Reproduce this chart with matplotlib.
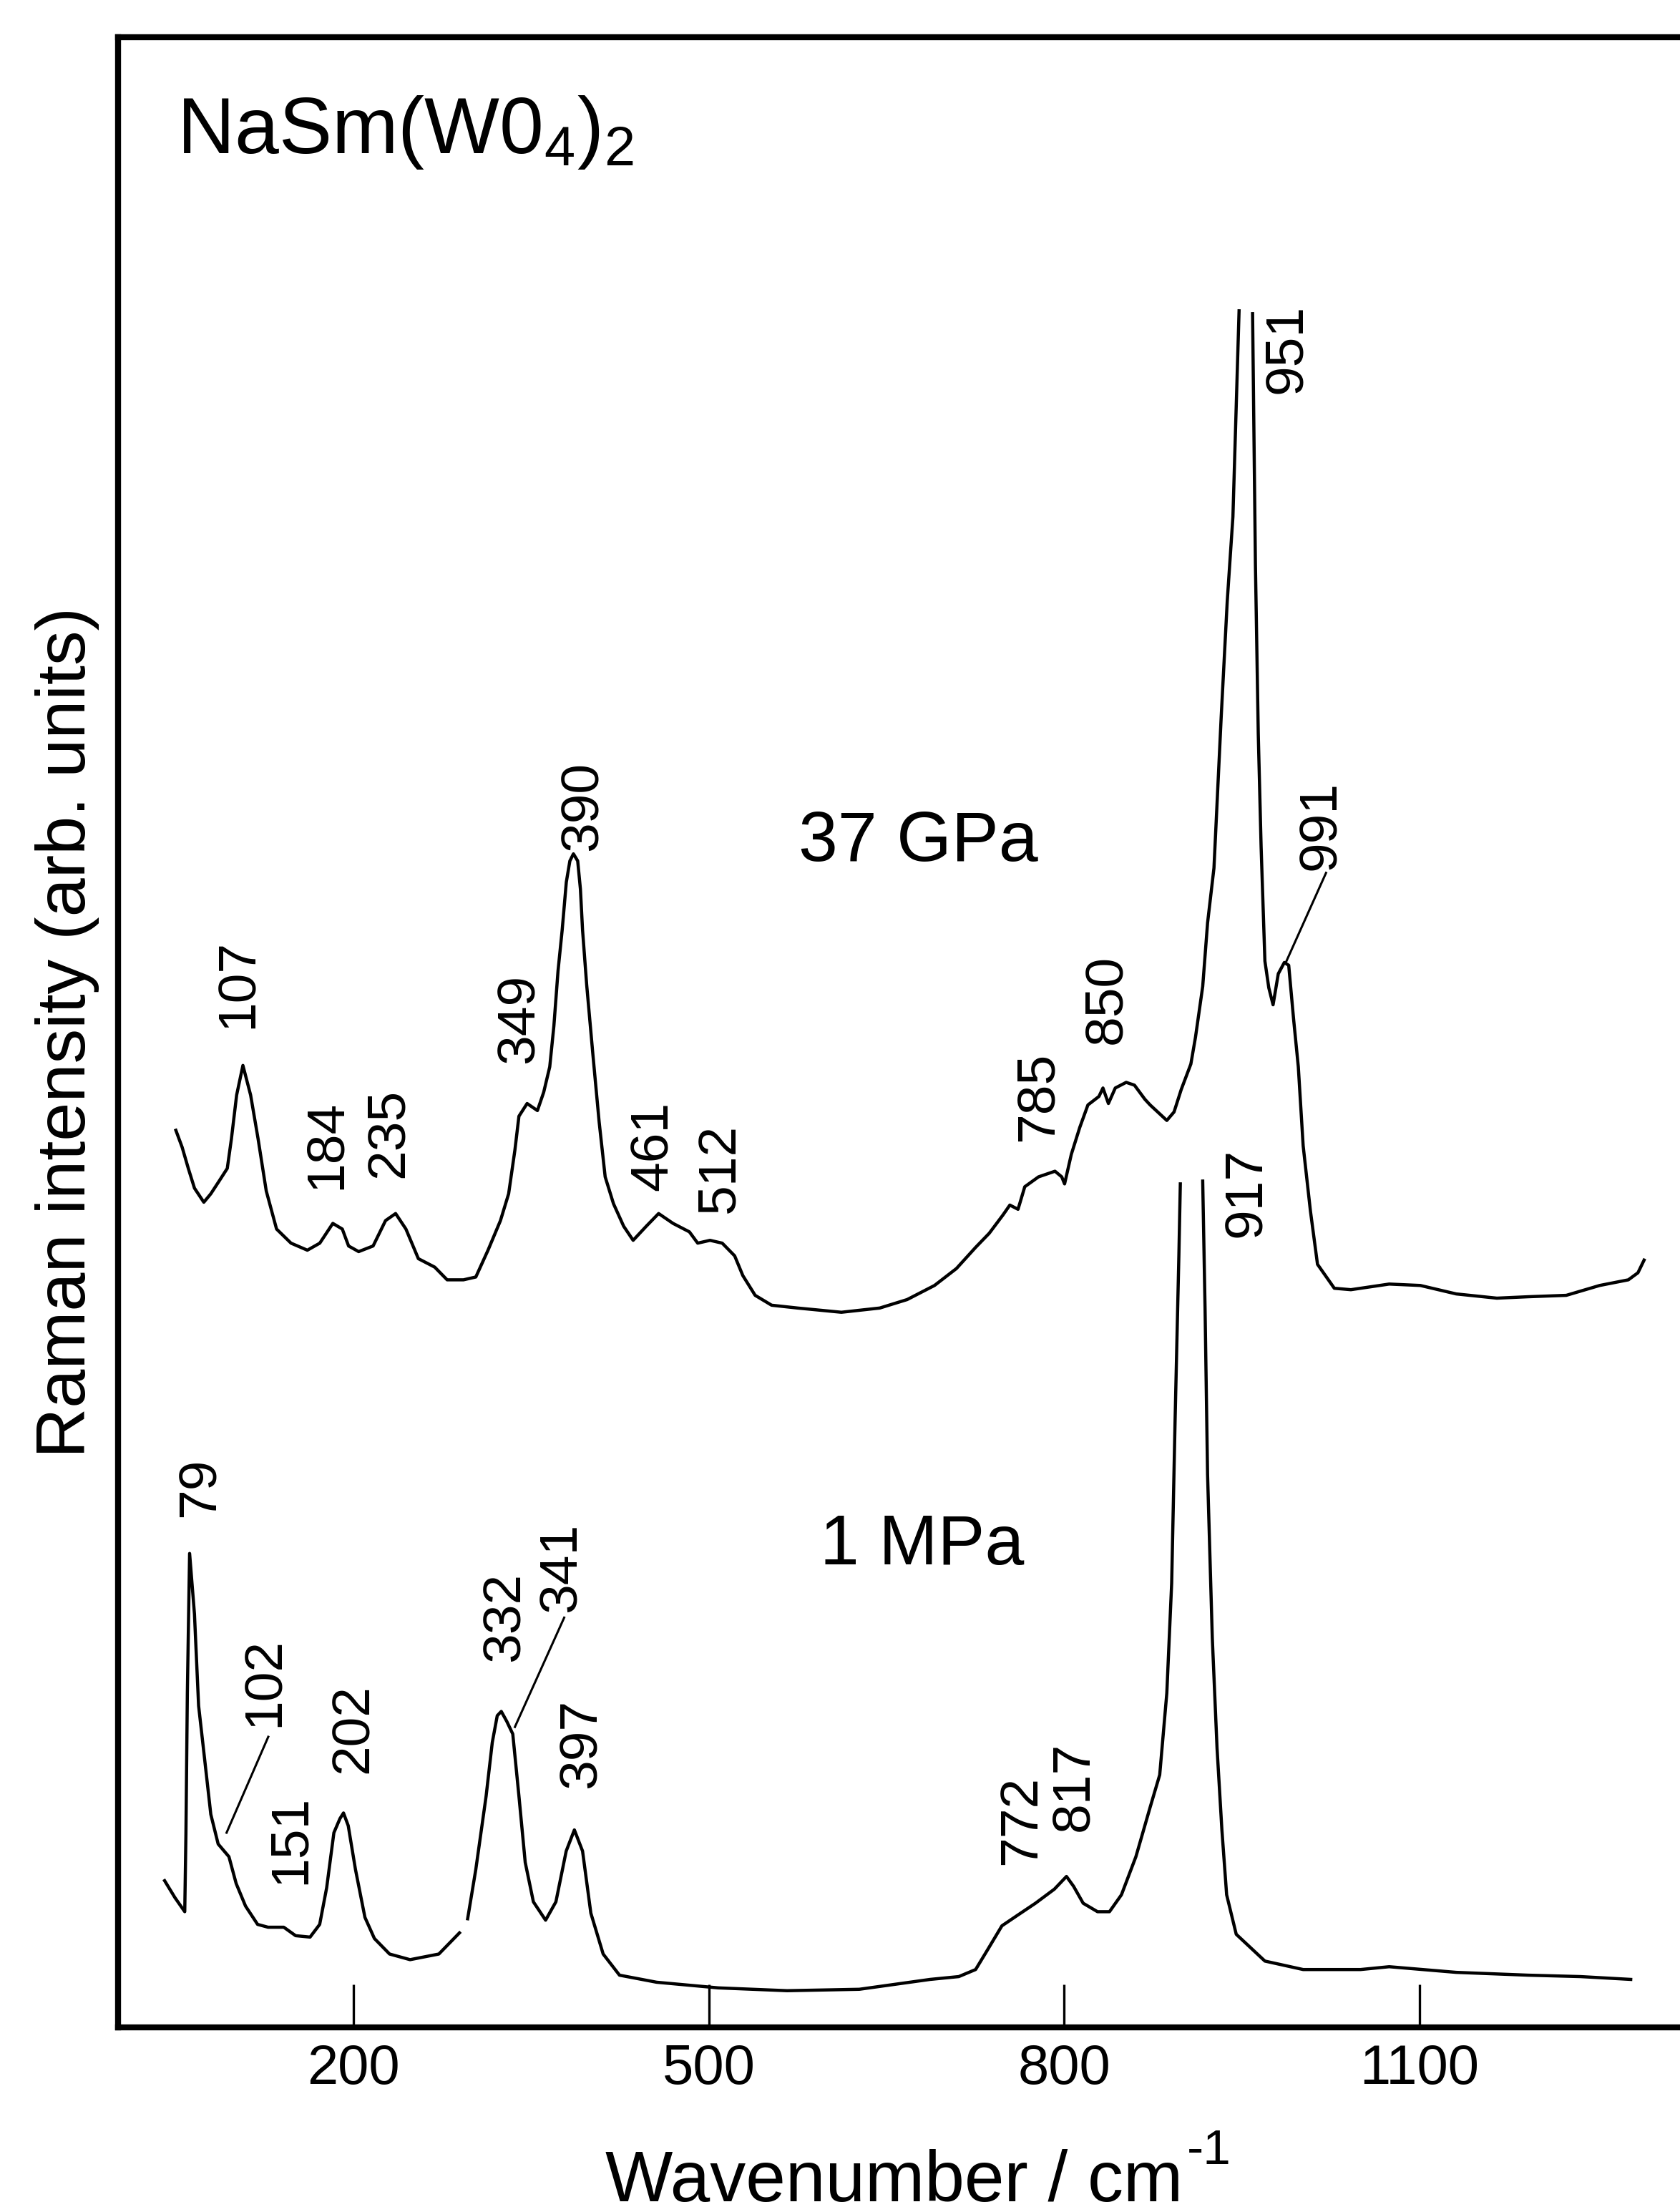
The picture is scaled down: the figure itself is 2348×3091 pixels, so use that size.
import numpy as np
import matplotlib
matplotlib.use("Agg")
from matplotlib import pyplot as plt

matplotlib.rcParams["font.family"] = "Liberation Sans"
matplotlib.rcParams["mathtext.default"] = "regular"

nan = np.nan

# 37 GPa spectrum (wavenumber / cm-1, intensity arb. units); peak top clipped in the original
wn_37 = [50.1, 55.4, 60.6, 65.8, 73.7, 79.6, 86.6, 93.5, 97.0, 101.4, 106.7, 113.2,
         119.5, 126.4, 135.1, 147.3, 161.1, 171.6, 182.6, 190.6, 195.9, 204.4, 216.6,
         227.1, 235.6, 244.3, 254.8, 268.6, 279.1, 292.9, 303.3, 313.6, 324.1, 331.0,
         336.3, 339.7, 346.6, 355.3, 360.6, 365.7, 369.2, 372.7, 376.2, 379.7, 382.7,
         385.7, 389.3, 391.6, 393.4, 396.9, 402.1, 407.4, 412.5, 419.5, 428.1, 436.1,
         447.2, 457.6, 469.8, 483.6, 490.6, 501.0, 511.3, 521.8, 528.7, 539.1, 553.0,
         574.9, 611.9, 644.3, 667.4, 690.5, 709.0, 725.2, 736.7, 748.3, 754.1, 761.0,
         766.7, 778.3, 792.2, 797.9, 800.3, 806.0, 813.1, 820.0, 829.3, 832.7, 837.3,
         843.1, 852.3, 859.3, 868.1, 872.5, 886.6, 892.7, 898.8, 906.9, 910.8, 916.9,
         921.0, 926.4, 932.5, 937.6, 942.4, 947.6, nan,
         959.0, 961.4, 963.8, 966.2, 969.4, 972.7, 976.3, 980.7, 985.8, 989.5, 993.6,
         997.6, 1001.7, 1007.8, 1013.8, 1028.0, 1042.0, 1074.3, 1100.6, 1130.9, 1165.2,
         1191.5, 1223.8, 1252.0, 1276.2, 1284.3, 1289.5]
int_37 = [630, 618, 603, 589, 579, 585, 594, 603, 624, 655, 676, 655,
          624, 587, 560, 550, 545, 550, 564, 560, 548, 544, 548,
          566, 571, 560, 539, 533, 524, 524, 526, 545, 566, 585,
          616, 640, 649, 644, 657, 675, 704, 743, 772, 806, 821,
          826, 821, 801, 772, 733, 684, 636, 597, 578, 562, 552,
          562, 571, 564, 558, 550, 552, 550, 541, 527, 513, 506,
          504, 501, 504, 510, 520, 532, 547, 557, 570, 577, 574,
          590, 597, 601, 597, 592, 613, 632, 648, 654, 660, 649,
          660, 664, 662, 652, 648, 637, 643, 659, 677, 696, 732,
          777, 816, 923, 1005, 1065, 1211, nan,
          1209, 1031, 911, 831, 750, 731, 719, 741, 749, 747, 709,
          675, 619, 573, 535, 518, 517, 521, 520, 514, 511,
          512, 513, 520, 524, 529, 538]

# 1 MPa spectrum; gap near 292 cm-1 and clipped top at 917 cm-1 as in the original
wn_1 = [40.6, 49.3, 57.6, 58.6, 59.8, 61.7, 65.8, 69.3, 74.4, 79.6, 85.8, 94.9,
        101.0, 108.9, 119.1, 127.9, 141.2, 151.2, 163.4, 171.5, 177.4, 183.5, 188.6,
        191.6, 195.6, 201.7, 209.7, 217.7, 230.5, 247.8, 272.1, 289.5, nan,
        296.4, 303.3, 312.0, 317.2, 321.4, 324.8, 329.4, 334.5, 339.7, 345.0, 351.9,
        362.2, 370.9, 379.6, 386.5, 393.4, 400.4, 410.8, 424.6, 455.9, 507.9, 566.1,
        627.0, 686.8, 711.0, 725.2, 735.3, 747.4, 761.5, 775.7, 791.7, 801.9, 807.9,
        816.0, 828.1, 838.2, 848.3, 860.5, 872.5, 880.6, 886.6, 890.7, 893.6, 896.8,
        898.0, nan,
        916.9, 918.9, 921.0, 925.0, 929.0, 933.1, 937.1, 945.2, 969.4, 1001.7, 1050.1,
        1074.3, 1130.9, 1191.5, 1235.8, 1278.2]
int_1 = [98, 86, 76, 131, 231, 330, 287, 222, 184, 145, 124, 115,
         96, 80, 67, 65, 65, 59, 58, 67, 93, 132, 142,
         146, 137, 106, 72, 57, 46, 42, 46, 61, nan,
         71, 106, 158, 196, 215, 218, 211, 202, 158, 111, 83,
         70, 83, 119, 134, 119, 75, 46, 31, 26, 22, 20,
         21, 28, 30, 35, 49, 66, 74, 82, 92, 101, 94,
         82, 76, 76, 88, 115, 150, 173, 231, 309, 425, 542,
         592, nan,
         594, 503, 386, 270, 192, 134, 88, 60, 41, 35, 35,
         37, 33, 31, 30, 28]

# peak labels
labels_37 = ["107", "184", "235", "349", "390", "461", "512", "785", "850", "951", "991"]
labels_1 = ["79", "102", "151", "202", "332", "341", "397", "772", "817", "917"]

xticks = [200, 500, 800, 1100]

# label anchor positions (data coords)
pos_37 = [(103, 734), (177, 620), (230, 628), (340, 709), (394, 860), (453, 619),
          (509, 603), (778, 654), (836, 723), (988, 1184), (1017, 846)]
pos_1 = [(71, 377), (125, 239), (147, 127), (200, 206), (328, 285), (376, 320),
         (393, 195), (764, 141), (808, 165), (954, 586)]

fig = plt.figure(figsize=(23.48, 30.91), dpi=100)
ax = fig.add_axes([0.07027, 0.08347, 0.92973, 0.89971])

ax.plot(wn_37, int_37, color="black", lw=3.2, solid_joinstyle="round")
ax.plot(wn_1, int_1, color="black", lw=3.2, solid_joinstyle="round")

# leader lines
ax.plot([986.8, 1021], [748.5, 812.5], color="black", lw=2.2)
ax.plot([92.9, 128.1], [132, 200], color="black", lw=2.2)
ax.plot([336.3, 377.9], [207, 284.5], color="black", lw=2.2)

for txt, (x, y) in zip(labels_37 + labels_1, pos_37 + pos_1):
    ax.text(x, y, txt, rotation=90, ha="center", va="center", fontsize=54)

ax.text(677, 834, "37 GPa", ha="center", va="center", fontsize=71)
ax.text(680, 335, "1 MPa", ha="center", va="center", fontsize=71)
ax.text(51, 1323, "NaSm(W0$_4$)$_2$", ha="left", va="baseline", fontsize=80)

ax.set_xlim(1.3, 1319.8)
ax.set_ylim(-6, 1405)
ax.set_xticks(xticks)
ax.set_yticks([])
ax.tick_params(axis="x", direction="in", length=43, width=2.4, pad=16, labelsize=56)
for s in ["left", "bottom", "top"]:
    ax.spines[s].set_linewidth(6)
ax.spines["right"].set_visible(False)

# axis titles (superscript drawn separately, as in the original)
fig.text(0.5324, 0.0050, "Wavenumber / cm", ha="center", va="baseline", fontsize=72)
fig.text(0.7066, 0.0217, "-1", ha="left", va="baseline", fontsize=50)
ax.set_ylabel("Raman intensity (arb. units)", fontsize=70)
ax.yaxis.set_label_coords(-0.012, 0.5)

fig.savefig("out.png", dpi=100)
